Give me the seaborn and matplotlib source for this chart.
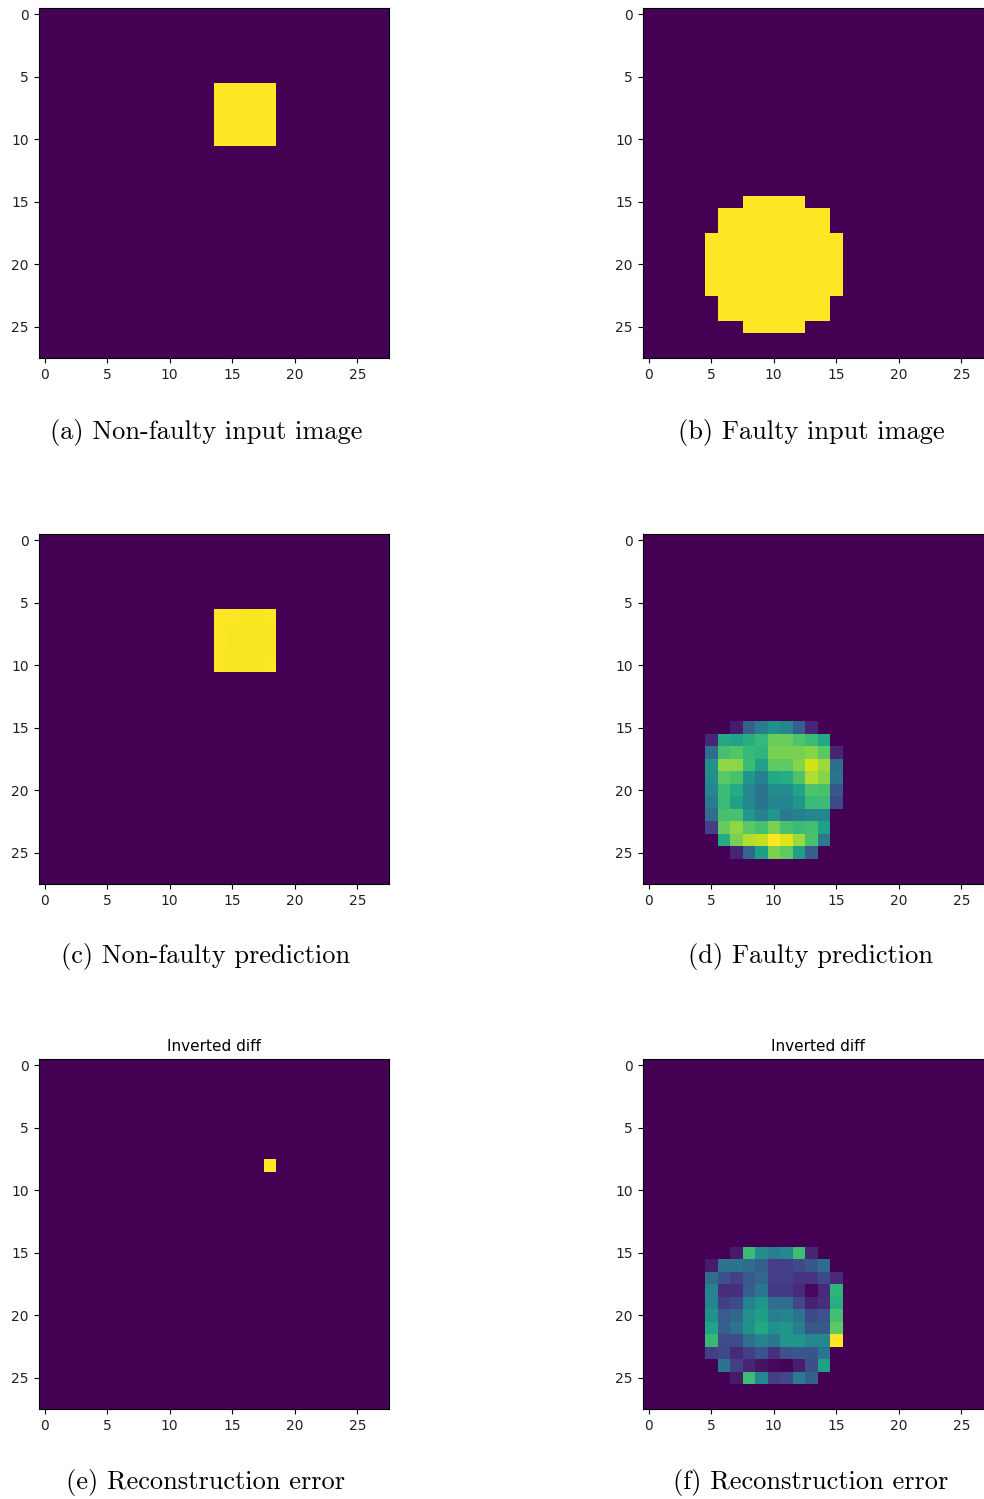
import numpy as np
import matplotlib
matplotlib.use("Agg")
import matplotlib.pyplot as plt
import seaborn as sns

GRID = 28
TICKS = [0, 5, 10, 15, 20, 25]

# Non-faulty input: a filled square (rows 6-10, cols 14-18)
square_rows = [6, 7, 8, 9, 10]
square_cols = [14, 15, 16, 17, 18]

# Faulty input: a disc given as (row, first col, last col) spans
disc_spans = [
    (15, 8, 12),
    (16, 6, 14),
    (17, 6, 14),
    (18, 5, 15),
    (19, 5, 15),
    (20, 5, 15),
    (21, 5, 15),
    (22, 5, 15),
    (23, 6, 14),
    (24, 6, 14),
    (25, 8, 12),
]

# Non-faulty prediction values inside the square (rows 6-10, cols 14-18)
pred_square = [
    [1.000, 0.993, 0.990, 0.988, 0.993],
    [0.997, 0.990, 0.985, 0.988, 0.990],
    [0.993, 0.988, 0.990, 0.985, 0.988],
    [0.997, 0.990, 0.988, 0.988, 0.990],
    [0.993, 0.990, 0.990, 0.988, 0.993],
]

# Faulty prediction patch (rows 15-25, cols 5-15)
patch_row0, patch_col0 = 15, 5
pred_disc = [
    [0.00, 0.00, 0.07, 0.30, 0.42, 0.50, 0.45, 0.30, 0.10, 0.00, 0.00],
    [0.10, 0.60, 0.58, 0.63, 0.67, 0.77, 0.77, 0.72, 0.68, 0.60, 0.00],
    [0.35, 0.70, 0.73, 0.67, 0.65, 0.80, 0.80, 0.79, 0.82, 0.74, 0.10],
    [0.50, 0.83, 0.83, 0.68, 0.57, 0.75, 0.75, 0.82, 0.93, 0.85, 0.35],
    [0.49, 0.74, 0.71, 0.53, 0.43, 0.60, 0.62, 0.72, 0.88, 0.82, 0.38],
    [0.46, 0.68, 0.61, 0.46, 0.38, 0.49, 0.49, 0.58, 0.72, 0.71, 0.27],
    [0.41, 0.68, 0.57, 0.46, 0.38, 0.45, 0.45, 0.53, 0.68, 0.68, 0.22],
    [0.35, 0.71, 0.71, 0.53, 0.43, 0.52, 0.41, 0.43, 0.46, 0.46, 0.00],
    [0.18, 0.76, 0.83, 0.74, 0.71, 0.80, 0.71, 0.68, 0.70, 0.57, 0.00],
    [0.00, 0.61, 0.80, 0.88, 0.91, 1.00, 0.95, 0.85, 0.71, 0.41, 0.00],
    [0.00, 0.00, 0.10, 0.33, 0.56, 0.80, 0.75, 0.56, 0.30, 0.00, 0.00],
]

# Inverted difference for the non-faulty case: one hot pixel
diff_pixel = (8, 18)

# Inverted difference for the faulty case (rows 15-25, cols 5-15)
diff_disc = [
    [0.00, 0.00, 0.07, 0.68, 0.49, 0.42, 0.46, 0.69, 0.10, 0.00, 0.00],
    [0.07, 0.38, 0.38, 0.35, 0.30, 0.18, 0.18, 0.22, 0.27, 0.35, 0.00],
    [0.35, 0.25, 0.19, 0.28, 0.33, 0.18, 0.18, 0.15, 0.15, 0.22, 0.11],
    [0.44, 0.13, 0.14, 0.29, 0.39, 0.17, 0.17, 0.12, 0.02, 0.12, 0.65],
    [0.45, 0.18, 0.23, 0.44, 0.52, 0.36, 0.36, 0.21, 0.09, 0.13, 0.63],
    [0.50, 0.29, 0.33, 0.50, 0.56, 0.42, 0.45, 0.38, 0.22, 0.25, 0.70],
    [0.58, 0.29, 0.38, 0.51, 0.60, 0.51, 0.52, 0.42, 0.27, 0.27, 0.75],
    [0.67, 0.23, 0.23, 0.38, 0.44, 0.40, 0.52, 0.52, 0.46, 0.46, 1.00],
    [0.18, 0.22, 0.12, 0.18, 0.26, 0.14, 0.25, 0.27, 0.26, 0.38, 0.00],
    [0.00, 0.38, 0.18, 0.10, 0.05, 0.02, 0.01, 0.08, 0.24, 0.57, 0.00],
    [0.00, 0.00, 0.07, 0.69, 0.46, 0.18, 0.22, 0.41, 0.30, 0.00, 0.00],
]

captions = [
    "(a) Non-faulty input image",
    "(b) Faulty input image",
    "(c) Non-faulty prediction",
    "(d) Faulty prediction",
    "(e) Reconstruction error",
    "(f) Reconstruction error",
]
titles = ["", "", "", "", "Inverted diff", "Inverted diff"]


def build_images():
    img_a = np.zeros((GRID, GRID))
    img_a[square_rows[0]:square_rows[-1] + 1, square_cols[0]:square_cols[-1] + 1] = 1.0

    img_b = np.zeros((GRID, GRID))
    for r, c0, c1 in disc_spans:
        img_b[r, c0:c1 + 1] = 1.0

    img_c = np.zeros((GRID, GRID))
    img_c[square_rows[0]:square_rows[-1] + 1, square_cols[0]:square_cols[-1] + 1] = np.array(pred_square)

    img_d = np.zeros((GRID, GRID))
    pd_ = np.array(pred_disc)
    img_d[patch_row0:patch_row0 + pd_.shape[0], patch_col0:patch_col0 + pd_.shape[1]] = pd_

    img_e = np.zeros((GRID, GRID))
    img_e[diff_pixel] = 1.0

    img_f = np.zeros((GRID, GRID))
    dd = np.array(diff_disc)
    img_f[patch_row0:patch_row0 + dd.shape[0], patch_col0:patch_col0 + dd.shape[1]] = dd
    return [img_a, img_b, img_c, img_d, img_e, img_f]


W, H = 984, 1499
fig = plt.figure(figsize=(W / 100, H / 100), dpi=100)

col_left = [38.5, 642.5]       # axes left edge, px
row_top = [8, 534, 1059]       # axes top edge, px
box = 350                      # axes size, px
caption_y = [432, 957, 1483]   # caption centre, px
caption_x = [206, 811]

images = build_images()
for i, img in enumerate(images):
    r, c = divmod(i, 2)
    left = col_left[c] / W
    bottom = 1 - (row_top[r] + box) / H
    ax = fig.add_axes([left, bottom, box / W, box / H])
    sns.heatmap(img, ax=ax, cmap="viridis", cbar=False,
                xticklabels=False, yticklabels=False)
    ax.set_xticks(np.array(TICKS) + 0.5)
    ax.set_xticklabels([str(t) for t in TICKS], fontsize=10, rotation=0)
    ax.set_yticks(np.array(TICKS) + 0.5)
    ax.set_yticklabels([str(t) for t in TICKS], fontsize=10, rotation=0)
    ax.tick_params(axis="both", length=3.5, width=0.8, color="black",
                   labelcolor="#222222", bottom=True, left=True)
    for sp in ax.spines.values():
        sp.set_visible(True)
        sp.set_color("black")
        sp.set_linewidth(0.8)
    if titles[i]:
        ax.set_title(titles[i], fontsize=11, pad=5.5)
    fig.text(caption_x[c] / W, 1 - caption_y[r] / H, captions[i],
             family="cmr10", fontsize=19, ha="center", va="center")

fig.savefig("out.png", dpi=100)
